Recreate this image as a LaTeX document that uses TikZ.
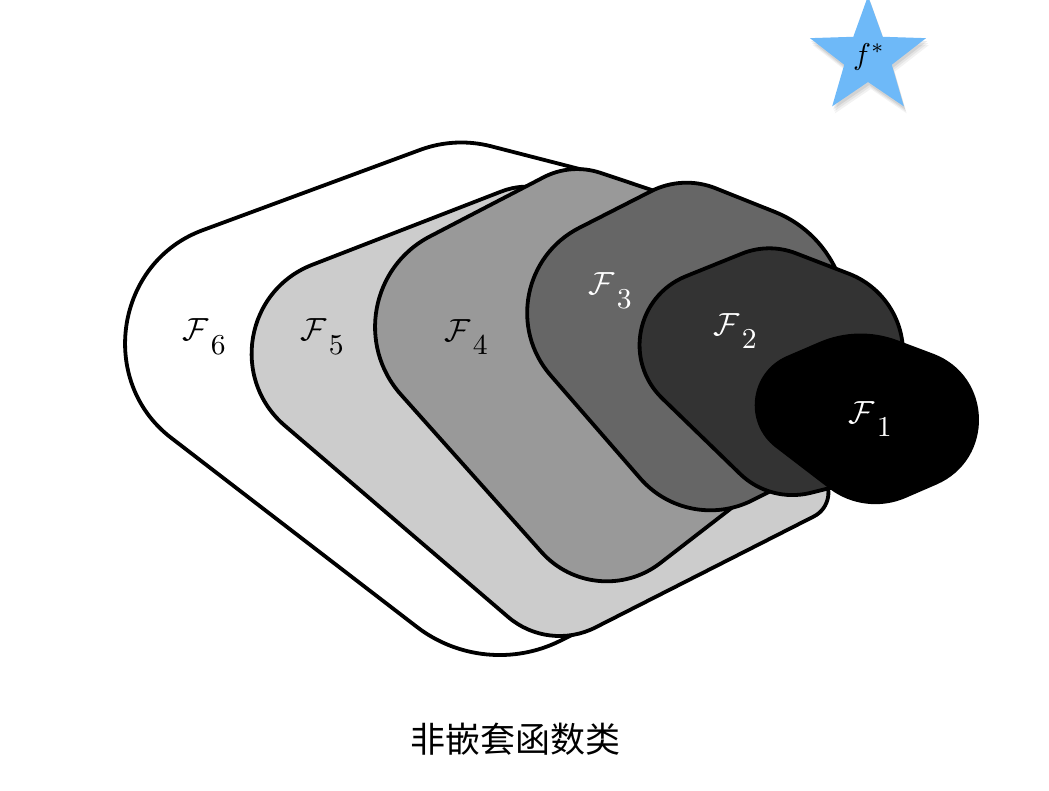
\documentclass[tikz,border=0pt]{standalone}
\usepackage{fontspec}
\newfontfamily\cjk{Noto Sans CJK SC}
\usetikzlibrary{calc}
\definecolor{starblue}{RGB}{110,185,248}
\definecolor{gfive}{RGB}{204,204,204}
\definecolor{gfour}{RGB}{153,153,153}
\definecolor{gthree}{RGB}{102,102,102}
\definecolor{gtwo}{RGB}{51,51,51}
% corner: name, previous vertex, vertex, next vertex, cut distance, handle factor
\newcommand\mkcorner[6]{%
  \pgfmathsetmacro\mkcc{(1-#6)*#5}%
  \coordinate (#1a) at ($(#3)!#5pt!(#2)$);
  \coordinate (#1b) at ($(#3)!#5pt!(#4)$);
  \coordinate (#1p) at ($(#3)!\mkcc pt!(#2)$);
  \coordinate (#1q) at ($(#3)!\mkcc pt!(#4)$);
}
\newcommand\flab[1]{$\mathcal{F}$\kern0.8pt\raisebox{-4.3pt}{\small #1}}
\begin{document}
\begin{tikzpicture}[x=1pt,y=-1pt,
  region/.style={draw=black, line width=3.8pt, line join=round},
  lab/.style={scale=3.2, inner sep=0pt},
  whitelab/.style={lab, text=white}]
\useasboundingbox (0,0) rectangle (1049,790);

% ---------- F6 ----------
\coordinate (L6) at (-1,305.4);
\coordinate (T6) at (455,137);
\coordinate (TR6) at (595,173);
\coordinate (BR6) at (630,606);
\coordinate (B6) at (484.2,678.7);
\mkcorner{l6}{B6}{L6}{T6}{217}{0.428}
\mkcorner{t6}{L6}{T6}{TR6}{37}{0.651}
\mkcorner{tr6}{T6}{TR6}{BR6}{10}{0.55}
\mkcorner{br6}{TR6}{BR6}{B6}{10}{0.55}
\mkcorner{b6}{BR6}{B6}{L6}{85}{0.611}
\draw[region, fill=white] (l6b) -- (t6a) .. controls (t6p) and (t6q) .. (t6b)
  -- (tr6a) .. controls (tr6p) and (tr6q) .. (tr6b)
  -- (br6a) .. controls (br6p) and (br6q) .. (br6b)
  -- (b6a) .. controls (b6p) and (b6q) .. (b6b)
  -- (l6a) .. controls (l6p) and (l6q) .. (l6b) -- cycle;

% ---------- F5 ----------
\coordinate (L5) at (164.1,322.2);
\coordinate (T5) at (548,173.4);
\coordinate (R5) at (845,500.6);
\coordinate (B5) at (548.3,651.4);
\mkcorner{l5}{B5}{L5}{T5}{159}{0.452}
\mkcorner{t5}{L5}{T5}{R5}{50}{0.602}
\mkcorner{r5}{T5}{R5}{B5}{35}{0.504}
\mkcorner{b5}{R5}{B5}{L5}{53}{0.606}
\draw[region, fill=gfive] (l5b) -- (t5a) .. controls (t5p) and (t5q) .. (t5b)
  -- (r5a) .. controls (r5p) and (r5q) .. (r5b)
  -- (b5a) .. controls (b5p) and (b5q) .. (b5b)
  -- (l5a) .. controls (l5p) and (l5q) .. (l5b) -- cycle;

% ---------- F4 ----------
\coordinate (L4) at (313.7,296.9);
\coordinate (T4) at (571,163);
\coordinate (TR4) at (790,236.3);
\coordinate (BR4) at (790,462.8);
\coordinate (B4) at (595.8,612.9);
\mkcorner{l4}{B4}{L4}{T4}{131}{0.507}
\mkcorner{t4}{L4}{T4}{TR4}{31}{0.639}
\mkcorner{tr4}{T4}{TR4}{BR4}{10}{0.55}
\mkcorner{br4}{TR4}{BR4}{B4}{10}{0.55}
\mkcorner{b4}{BR4}{B4}{L4}{81.5}{0.563}
\draw[region, fill=gfour] (l4b) -- (t4a) .. controls (t4p) and (t4q) .. (t4b)
  -- (tr4a) .. controls (tr4p) and (tr4q) .. (tr4b)
  -- (br4a) .. controls (br4p) and (br4q) .. (br4b)
  -- (b4a) .. controls (b4p) and (b4q) .. (b4b)
  -- (l4a) .. controls (l4p) and (l4q) .. (l4b) -- cycle;

% ---------- F3 ----------
\coordinate (L3) at (470.5,283.3);
\coordinate (T3) at (682.7,175.1);
\coordinate (R3) at (822.3,230.9);
\coordinate (BR3) at (894.5,429.2);
\coordinate (B3) at (687.5,532.7);
\mkcorner{l3}{B3}{L3}{T3}{122}{0.508}
\mkcorner{t3}{L3}{T3}{R3}{35.5}{0.635}
\mkcorner{r3}{T3}{R3}{BR3}{51}{0.636}
\mkcorner{br3}{R3}{BR3}{B3}{10}{0.55}
\mkcorner{b3}{BR3}{B3}{L3}{72}{0.588}
\draw[region, fill=gthree] (l3b) -- (t3a) .. controls (t3p) and (t3q) .. (t3b)
  -- (r3a) .. controls (r3p) and (r3q) .. (r3b)
  -- (br3a) .. controls (br3p) and (br3q) .. (br3b)
  -- (b3a) .. controls (b3p) and (b3q) .. (b3b)
  -- (l3a) .. controls (l3p) and (l3q) .. (l3b) -- cycle;

% ---------- F2 ----------
\coordinate (L2) at (580.3,318.9);
\coordinate (T2) at (768.7,242.8);
\coordinate (R2) at (903,294.6);
\coordinate (BR2) at (903,469.7);
\coordinate (B2) at (770.1,503);
\mkcorner{l2}{B2}{L2}{T2}{114}{0.471}
\mkcorner{t2}{L2}{T2}{R2}{29}{0.643}
\mkcorner{r2}{T2}{R2}{BR2}{58}{0.602}
\mkcorner{br2}{R2}{BR2}{B2}{10}{0.55}
\mkcorner{b2}{BR2}{B2}{L2}{41.9}{0.621}
\draw[region, fill=gtwo] (l2b) -- (t2a) .. controls (t2p) and (t2q) .. (t2b)
  -- (r2a) .. controls (r2p) and (r2q) .. (r2b)
  -- (br2a) .. controls (br2p) and (br2q) .. (br2b)
  -- (b2a) .. controls (b2p) and (b2q) .. (b2b)
  -- (l2a) .. controls (l2p) and (l2q) .. (l2b) -- cycle;

% ---------- F1 ----------
\coordinate (L1) at (707,392.5);
\coordinate (T1) at (858,327.5);
\coordinate (R1) at (1091.6,415.2);
\coordinate (B1) at (864.9,513.5);
\mkcorner{l1}{B1}{L1}{T1}{88}{0.448}
\mkcorner{t1}{L1}{T1}{R1}{41}{0.641}
\mkcorner{r1}{T1}{R1}{B1}{170}{0.364}
\mkcorner{b1}{R1}{B1}{L1}{43.6}{0.616}
\draw[region, fill=black] (l1b) -- (t1a) .. controls (t1p) and (t1q) .. (t1b)
  -- (r1a) .. controls (r1p) and (r1q) .. (r1b)
  -- (b1a) .. controls (b1p) and (b1q) .. (b1b)
  -- (l1a) .. controls (l1p) and (l1q) .. (l1b) -- cycle;

% ---------- labels ----------
\node[lab] (lF6) at (204,337) {\flab{6}};
\node[lab] (lF5) at (322,337) {\flab{5}};
\node[lab] (lF4) at (466,337) {\flab{4}};
\node[whitelab] (lF3) at (610,291) {\flab{3}};
\node[whitelab] (lF2) at (735,331) {\flab{2}};
\node[whitelab] (lF1) at (870,419) {\flab{1}};

% ---------- star ----------
\foreach \o/\op in {7/0.05,5/0.06,3/0.08}{
  \fill[black, opacity=\op, shift={({868+0.4*\o},{57+\o})}]
    (-90:61) -- (-54:25) -- (-18:61) -- (18:25) -- (54:61) -- (90:25)
    -- (126:61) -- (162:25) -- (198:61) -- (234:25) -- cycle;
}
\fill[starblue, shift={(868,57)}]
    (-90:61) -- (-54:25) -- (-18:61) -- (18:25) -- (54:61) -- (90:25)
    -- (126:61) -- (162:25) -- (198:61) -- (234:25) -- cycle;
\node[scale=3.0, inner sep=0pt] (fstar) at (869,57) {$f^{*}$};

% ---------- caption ----------
\node[font=\cjk\fontsize{35}{42}\selectfont, inner sep=0pt] (cap) at (515,739) {非嵌套函数类};
\end{tikzpicture}
\end{document}
